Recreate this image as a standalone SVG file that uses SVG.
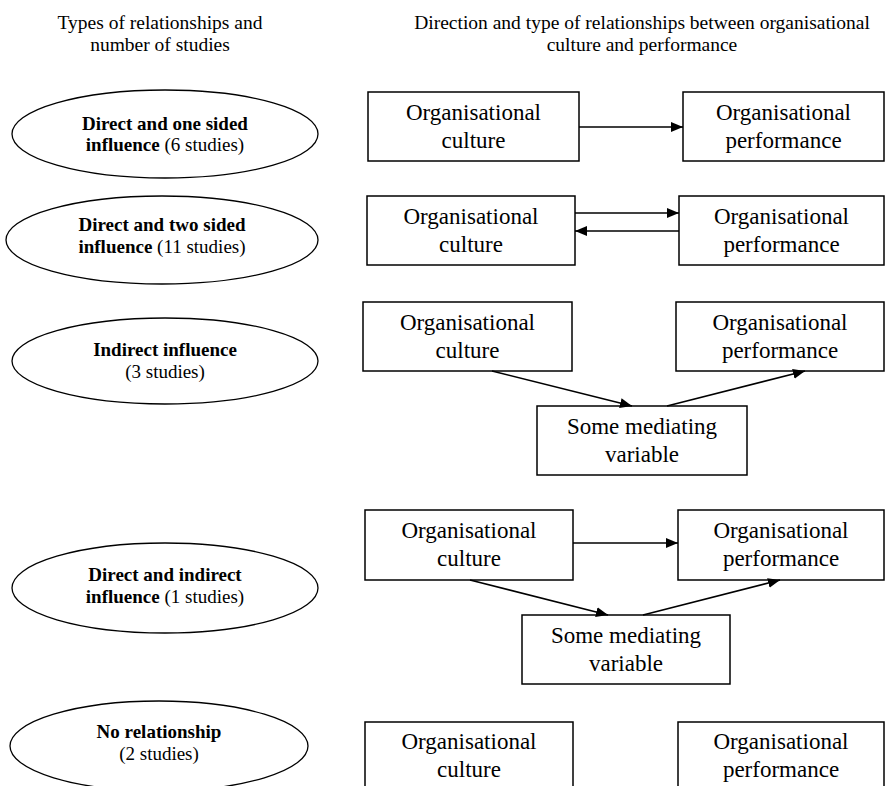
<svg xmlns="http://www.w3.org/2000/svg" width="886" height="786" viewBox="0 0 886 786">
  <style>
    text { font-family: "Liberation Serif", "Times New Roman", serif; fill: #000; text-anchor: middle; }
    .hdr { font-size: 19.5px; }
    .lbl { font-size: 19px; }
    .lbl .b { font-weight: bold; }
    .box { font-size: 23px; }
    rect { fill: #fff; stroke: #000; stroke-width: 1.5; }
    ellipse { fill: #fff; stroke: #000; stroke-width: 1.3; }
    .conn line { stroke: #000; stroke-width: 1.6; marker-end: url(#arrow); }
  </style>
  <defs>
    <marker id="arrow" markerUnits="userSpaceOnUse" markerWidth="13" markerHeight="10" refX="12" refY="5" orient="auto">
      <path d="M0,0 L12,5 L0,10 z" fill="#000"/>
    </marker>
  </defs>
  <rect x="0" y="0" width="886" height="786" style="stroke:none;fill:#fff"/>

  <!-- column headings -->
  <g id="heading-left">
    <text class="hdr" x="160" y="29">Types of relationships and</text>
    <text class="hdr" x="160" y="51">number of studies</text>
  </g>
  <g id="heading-right">
    <text class="hdr" x="642" y="29">Direction and type of relationships between organisational</text>
    <text class="hdr" x="642" y="51">culture and performance</text>
  </g>

  <!-- relationship types -->
  <g id="type-one-sided">
    <ellipse cx="165" cy="134" rx="153" ry="44"/>
    <text class="lbl" x="165" y="130"><tspan class="b">Direct and one sided</tspan></text>
    <text class="lbl" x="165" y="151"><tspan class="b">influence</tspan> (6 studies)</text>
  </g>
  <g id="type-two-sided">
    <ellipse cx="162" cy="240" rx="156" ry="44"/>
    <text class="lbl" x="162" y="231"><tspan class="b">Direct and two sided</tspan></text>
    <text class="lbl" x="162" y="253"><tspan class="b">influence</tspan> (11 studies)</text>
  </g>
  <g id="type-indirect">
    <ellipse cx="165" cy="361" rx="153" ry="43"/>
    <text class="lbl" x="165" y="356"><tspan class="b">Indirect influence</tspan></text>
    <text class="lbl" x="165" y="378">(3 studies)</text>
  </g>
  <g id="type-direct-indirect">
    <ellipse cx="165" cy="588" rx="153" ry="45"/>
    <text class="lbl" x="165" y="581"><tspan class="b">Direct and indirect</tspan></text>
    <text class="lbl" x="165" y="603"><tspan class="b">influence</tspan> (1 studies)</text>
  </g>
  <g id="type-none">
    <ellipse cx="159" cy="746" rx="149" ry="45"/>
    <text class="lbl" x="159" y="738"><tspan class="b">No relationship</tspan></text>
    <text class="lbl" x="159" y="760">(2 studies)</text>
  </g>

  <!-- row 1 -->
  <g id="r1-culture">
    <rect x="368" y="92" width="211" height="69"/>
    <text class="box" x="473.5" y="120">Organisational</text>
    <text class="box" x="473.5" y="148">culture</text>
  </g>
  <g id="r1-performance">
    <rect x="683" y="92" width="201" height="69"/>
    <text class="box" x="783.5" y="120">Organisational</text>
    <text class="box" x="783.5" y="148">performance</text>
  </g>

  <!-- row 2 -->
  <g id="r2-culture">
    <rect x="367" y="196" width="208" height="69"/>
    <text class="box" x="471" y="224">Organisational</text>
    <text class="box" x="471" y="252">culture</text>
  </g>
  <g id="r2-performance">
    <rect x="679" y="196" width="205" height="69"/>
    <text class="box" x="781.5" y="224">Organisational</text>
    <text class="box" x="781.5" y="252">performance</text>
  </g>

  <!-- row 3 -->
  <g id="r3-culture">
    <rect x="363" y="302" width="209" height="69"/>
    <text class="box" x="467.5" y="330">Organisational</text>
    <text class="box" x="467.5" y="358">culture</text>
  </g>
  <g id="r3-performance">
    <rect x="676" y="302" width="208" height="69"/>
    <text class="box" x="780" y="330">Organisational</text>
    <text class="box" x="780" y="358">performance</text>
  </g>
  <g id="r3-mediator">
    <rect x="537" y="406" width="210" height="69"/>
    <text class="box" x="642" y="434">Some mediating</text>
    <text class="box" x="642" y="462">variable</text>
  </g>

  <!-- row 4 -->
  <g id="r4-culture">
    <rect x="365" y="510" width="208" height="70"/>
    <text class="box" x="469" y="538">Organisational</text>
    <text class="box" x="469" y="566">culture</text>
  </g>
  <g id="r4-performance">
    <rect x="678" y="510" width="206" height="70"/>
    <text class="box" x="781" y="538">Organisational</text>
    <text class="box" x="781" y="566">performance</text>
  </g>
  <g id="r4-mediator">
    <rect x="522" y="615" width="208" height="69"/>
    <text class="box" x="626" y="643">Some mediating</text>
    <text class="box" x="626" y="671">variable</text>
  </g>

  <!-- row 5 -->
  <g id="r5-culture">
    <rect x="365" y="722" width="208" height="70"/>
    <text class="box" x="469" y="749">Organisational</text>
    <text class="box" x="469" y="777">culture</text>
  </g>
  <g id="r5-performance">
    <rect x="678" y="722" width="206" height="70"/>
    <text class="box" x="781" y="749">Organisational</text>
    <text class="box" x="781" y="777">performance</text>
  </g>

  <!-- connectors -->
  <g id="connectors" class="conn">
    <line x1="579" y1="127" x2="683" y2="127"/>
    <line x1="575" y1="213" x2="679" y2="213"/>
    <line x1="679" y1="231" x2="575" y2="231"/>
    <line x1="492" y1="371" x2="632" y2="406"/>
    <line x1="667" y1="406" x2="805" y2="371"/>
    <line x1="573" y1="543" x2="678" y2="543"/>
    <line x1="470" y1="580" x2="608" y2="615"/>
    <line x1="643" y1="615" x2="780" y2="580"/>
  </g>
</svg>
